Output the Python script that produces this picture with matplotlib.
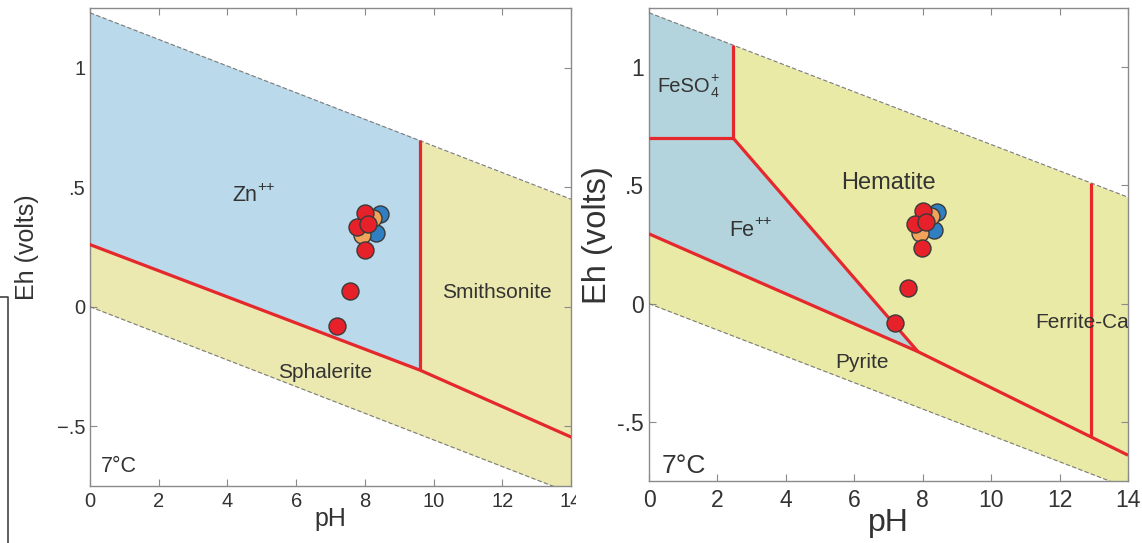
import matplotlib
matplotlib.use("Agg")
import matplotlib.pyplot as plt
from matplotlib.lines import Line2D
from matplotlib.patches import Rectangle, Polygon

plt.rcParams["font.family"] = ["Liberation Sans", "DejaVu Sans"]

# water stability field (dashed lines), 7 degC
water_ph = [0, 14]
water_upper = [1.23, 0.45]
water_lower = [0.0, -0.78]

# axis ticks
x_ticks = [0, 2, 4, 6, 8, 10, 12, 14]
x_labels = ["0", "2", "4", "6", "8", "10", "12", "14"]
y_ticks = [-0.5, 0, 0.5, 1]
y_labels_left = ["\u2212.5", "0", ".5", "1"]
y_labels_right = ["-.5", "0", ".5", "1"]

# Zn system boundaries
zn_low_ph = [0, 9.6, 14]
zn_low_eh = [0.26, -0.265, -0.545]
zn_vert_ph = [9.6, 9.6]
zn_vert_eh = [-0.265, 0.696]

# Fe system boundaries
fe_low_ph = [0, 7.86, 12.91, 14]
fe_low_eh = [0.295, -0.203, -0.563, -0.641]
fe_diag_ph = [2.46, 7.86]
fe_diag_eh = [0.70, -0.203]
fe_horiz_ph = [0, 2.46]
fe_horiz_eh = [0.70, 0.70]
feso4_vert_ph = [2.46, 2.46]
feso4_vert_eh = [0.70, 1.093]
ferrite_vert_ph = [12.91, 12.91]
ferrite_vert_eh = [-0.563, 0.512]

# samples
blue_ph = [8.43, 8.33]
blue_eh = [0.386, 0.310]
orange_ph = [8.24, 7.92]
orange_eh = [0.372, 0.300]
red_ph = [8.00, 7.76, 8.10, 7.99, 7.58, 7.19]
red_eh = [0.392, 0.335, 0.346, 0.237, 0.067, -0.082]

RED = "#e4282c"
GRAY = "#8a8a8a"
TXT = "#333333"


def water_band(ax, color):
    ax.fill_between(water_ph, water_lower, water_upper, color=color, lw=0, zorder=1)
    for ys in (water_upper, water_lower):
        ax.plot(water_ph, ys, color="#7a7a7a", lw=0.8, dashes=(4, 2), zorder=4)


def samples(ax):
    kw = dict(s=150, edgecolors="#3a3a3a", linewidths=1.0, zorder=6)
    ax.scatter(blue_ph, blue_eh, c="#2f7fc2", **kw)
    ax.scatter(orange_ph, orange_eh, c="#f0a35a", **kw)
    ax.scatter(red_ph, red_eh, c="#e62129", **kw)


def ion_label(ax, x, y, base, size, sup=None, sub=None):
    t = ax.text(x, y, base, fontsize=size, color=TXT, ha="center", va="center")
    if sup:
        ax.annotate(sup, xy=(1.0, 0.92), xycoords=t, fontsize=size * 0.7,
                    color=TXT, ha="left", va="center")
    if sub:
        ax.annotate(sub, xy=(1.0, 0.12), xycoords=t, fontsize=size * 0.7,
                    color=TXT, ha="left", va="center")
    return t


def style_axes(ax, ylabels, tick_size, label_size, xpad):
    ax.set_xlim(0, 14)
    ax.set_ylim(-0.75, 1.25)
    ax.set_xticks(x_ticks)
    ax.set_xticklabels(x_labels)
    ax.set_yticks(y_ticks)
    ax.set_yticklabels(ylabels)
    ax.tick_params(direction="in", top=True, right=True, length=5, width=0.8,
                   color=GRAY, labelcolor=TXT, labelsize=tick_size)
    ax.tick_params(axis="x", pad=xpad)
    for sp in ax.spines.values():
        sp.set_color(GRAY)
        sp.set_linewidth(1.0)
    ax.set_xlabel("pH", fontsize=label_size[0], color=TXT)
    ax.set_ylabel("Eh (volts)", fontsize=label_size[1], color=TXT)


def plot_zn(ax):
    water_band(ax, "#ebe9af")
    blue = [(0, water_upper[0]), (zn_vert_ph[1], zn_vert_eh[1]),
            (zn_vert_ph[0], zn_vert_eh[0]), (zn_low_ph[0], zn_low_eh[0])]
    ax.add_patch(Polygon(blue, closed=True, fc="#bad9ea", ec="none", zorder=2))
    ax.plot(zn_low_ph, zn_low_eh, color=RED, lw=2.3, zorder=5)
    ax.plot(zn_vert_ph, zn_vert_eh, color=RED, lw=2.3, zorder=5, solid_capstyle="butt")
    samples(ax)
    ion_label(ax, 4.51, 0.465, "Zn", 15.5, sup="++")
    ax.text(11.85, 0.058, "Smithsonite", fontsize=15, color=TXT, ha="center", va="center")
    ax.text(6.84, -0.275, "Sphalerite", fontsize=15, color=TXT, ha="center", va="center")
    ax.text(0.33, -0.667, "7°C", fontsize=15.5, color=TXT, ha="left", va="center")
    style_axes(ax, y_labels_left, 14.5, (18, 18), 4)
    ax.yaxis.set_label_coords(-0.107, 0.5)
    ax.xaxis.set_label_coords(0.5, -0.044)


def plot_fe(ax):
    water_band(ax, "#eaeaa7")
    blue = [(0, water_upper[0]), (feso4_vert_ph[1], feso4_vert_eh[1]),
            (fe_diag_ph[0], fe_diag_eh[0]), (fe_diag_ph[1], fe_diag_eh[1]),
            (fe_low_ph[0], fe_low_eh[0])]
    ax.add_patch(Polygon(blue, closed=True, fc="#b4d4dd", ec="none", zorder=2))
    for xs, ys in [(fe_low_ph, fe_low_eh), (fe_diag_ph, fe_diag_eh),
                   (fe_horiz_ph, fe_horiz_eh), (feso4_vert_ph, feso4_vert_eh),
                   (ferrite_vert_ph, ferrite_vert_eh)]:
        ax.plot(xs, ys, color=RED, lw=2.3, zorder=5, solid_capstyle="butt")
    samples(ax)
    ion_label(ax, 1.02, 0.92, "FeSO", 14.5, sup="+", sub="4")
    ax.text(6.99, 0.51, "Hematite", fontsize=17, color=TXT, ha="center", va="center")
    ion_label(ax, 2.72, 0.31, "Fe", 15.5, sup="++")
    ax.text(6.23, -0.25, "Pyrite", fontsize=15, color=TXT, ha="center", va="center")
    ax.text(11.28, -0.08, "Ferrite-Ca", fontsize=15, color=TXT, ha="left", va="center",
            clip_on=True, zorder=7)
    ax.text(0.38, -0.688, "7°C", fontsize=19, color=TXT, ha="left", va="center")
    style_axes(ax, y_labels_right, 16.5, (23, 23.5), 6)
    ax.yaxis.set_label_coords(-0.075, 0.52)
    ax.xaxis.set_label_coords(0.5, -0.058)


def main():
    fig = plt.figure(figsize=(11.42, 5.43), dpi=100)
    ax1 = fig.add_axes([90 / 1142, 1 - 486 / 543, 481 / 1142, 478 / 543])
    ax2 = fig.add_axes([649 / 1142, 1 - 481 / 543, 479 / 1142, 473 / 543])
    ax2.set_zorder(3)
    plot_zn(ax1)
    plot_fe(ax2)

    # the left picture is cut where the right one starts
    fig.patches.append(Rectangle((576 / 1142, 0), 1, 1, transform=fig.transFigure,
                                 fc="white", ec="none", zorder=2))
    # edge of a neighbouring frame on the far left
    fig.add_artist(Line2D([0, 8 / 1142, 8 / 1142], [1 - 297 / 543, 1 - 297 / 543, 0],
                          transform=fig.transFigure, color="#444444", lw=1.2))

    fig.savefig("out.png", dpi=100)


if __name__ == "__main__":
    main()
